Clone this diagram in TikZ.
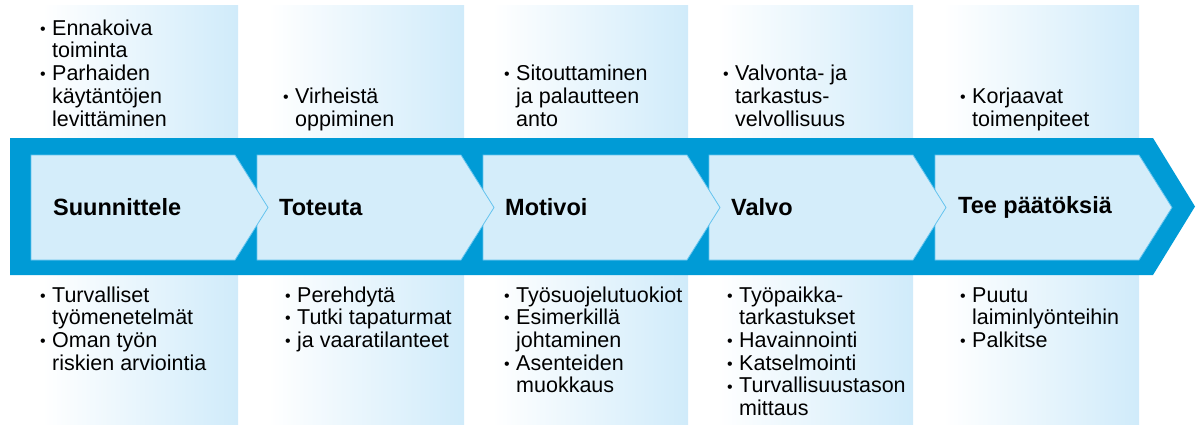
\documentclass[tikz,border=0pt]{standalone}
\usepackage{fontspec}
\setmainfont{Liberation Sans}
\usepackage{tikz}
\definecolor{bandblue}{RGB}{0,155,214}
\definecolor{chevfill}{RGB}{212,237,250}
\definecolor{chevline}{RGB}{100,195,238}
\definecolor{colbg}{RGB}{208,235,250}
\newcommand{\itemdot}{\makebox[12pt][l]{\raisebox{0.8pt}{\fontsize{16}{16}\selectfont •}}}

\begin{document}
\begin{tikzpicture}[x=1pt, y=-1pt, column/.style = {left color=white, right color=colbg}, chevron/.style = {fill=chevfill, draw=chevline, line width=0.8pt}, phase/.style = {anchor=west, inner sep=0pt, font=\fontsize{23.5}{26}\selectfont\bfseries}, items/.style = {anchor=base west, inner sep=0pt, align=left, font=\fontsize{21.5}{22.7}\selectfont}]
	\useasboundingbox (0,0) rectangle (1199,424);
	\foreach \x in {12,238,462,687,913}
		\shade[column] (\x+30,5) rectangle (\x+226,424);
	\fill[bandblue] (10,138) -- (1153,138) -- (1195,206.5) -- (1153,275) -- (10,275) -- cycle;
	\foreach \x in {935,709,483,257,31}
		\draw[chevron] (\x,155) -- ++(204,0) -- ++(33,52.5) -- ++(-33,52.5) -- ++(-204,0) -- cycle;

	\node[phase] (suunnittele) at (53,207.5) {Suunnittele};
	\node[phase] (toteuta) at (279,207.5) {Toteuta};
	\node[phase] (motivoi) at (505,207.5) {Motivoi};
	\node[phase] (valvo) at (731,207.5) {Valvo};
	\node[phase] (paatokset) at (958,207.5) {Tee päätöksiä};

	\node[items] (suunnittele top) at (40,126) {\begin{tabular}[b]{@{}l@{}l@{}}\itemdot&Ennakoiva\\&toiminta\\\itemdot&Parhaiden\\&käytäntöjen\\&levittäminen\end{tabular}};
	\node[items] (toteuta top) at (283,126) {\begin{tabular}[b]{@{}l@{}l@{}}\itemdot&Virheistä\\&oppiminen\end{tabular}};
	\node[items] (motivoi top) at (504,126) {\begin{tabular}[b]{@{}l@{}l@{}}\itemdot&Sitouttaminen\\&ja palautteen\\&anto\end{tabular}};
	\node[items] (valvo top) at (723,126) {\begin{tabular}[b]{@{}l@{}l@{}}\itemdot&Valvonta- ja\\&tarkastus-\\&velvollisuus\end{tabular}};
	\node[items] (paatokset top) at (960,126) {\begin{tabular}[b]{@{}l@{}l@{}}\itemdot&Korjaavat\\&toimenpiteet\end{tabular}};

	\node[items] (suunnittele bottom) at (40,302) {\begin{tabular}[t]{@{}l@{}l@{}}\itemdot&Turvalliset\\&työmenetelmät\\\itemdot&Oman työn\\&riskien arviointia\end{tabular}};
	\node[items] (toteuta bottom) at (285,302) {\begin{tabular}[t]{@{}l@{}l@{}}\itemdot&Perehdytä\\\itemdot&Tutki tapaturmat\\\itemdot&ja vaaratilanteet\end{tabular}};
	\node[items] (motivoi bottom) at (504,302) {\begin{tabular}[t]{@{}l@{}l@{}}\itemdot&Työsuojelutuokiot\\\itemdot&Esimerkillä\\&johtaminen\\\itemdot&Asenteiden\\&muokkaus\end{tabular}};
	\node[items] (valvo bottom) at (727,302) {\begin{tabular}[t]{@{}l@{}l@{}}\itemdot&Työpaikka-\\&tarkastukset\\\itemdot&Havainnointi\\\itemdot&Katselmointi\\\itemdot&Turvallisuustason\\&mittaus\end{tabular}};
	\node[items] (paatokset bottom) at (960,302) {\begin{tabular}[t]{@{}l@{}l@{}}\itemdot&Puutu\\&laiminlyönteihin\\\itemdot&Palkitse\end{tabular}};
\end{tikzpicture}
\end{document}
